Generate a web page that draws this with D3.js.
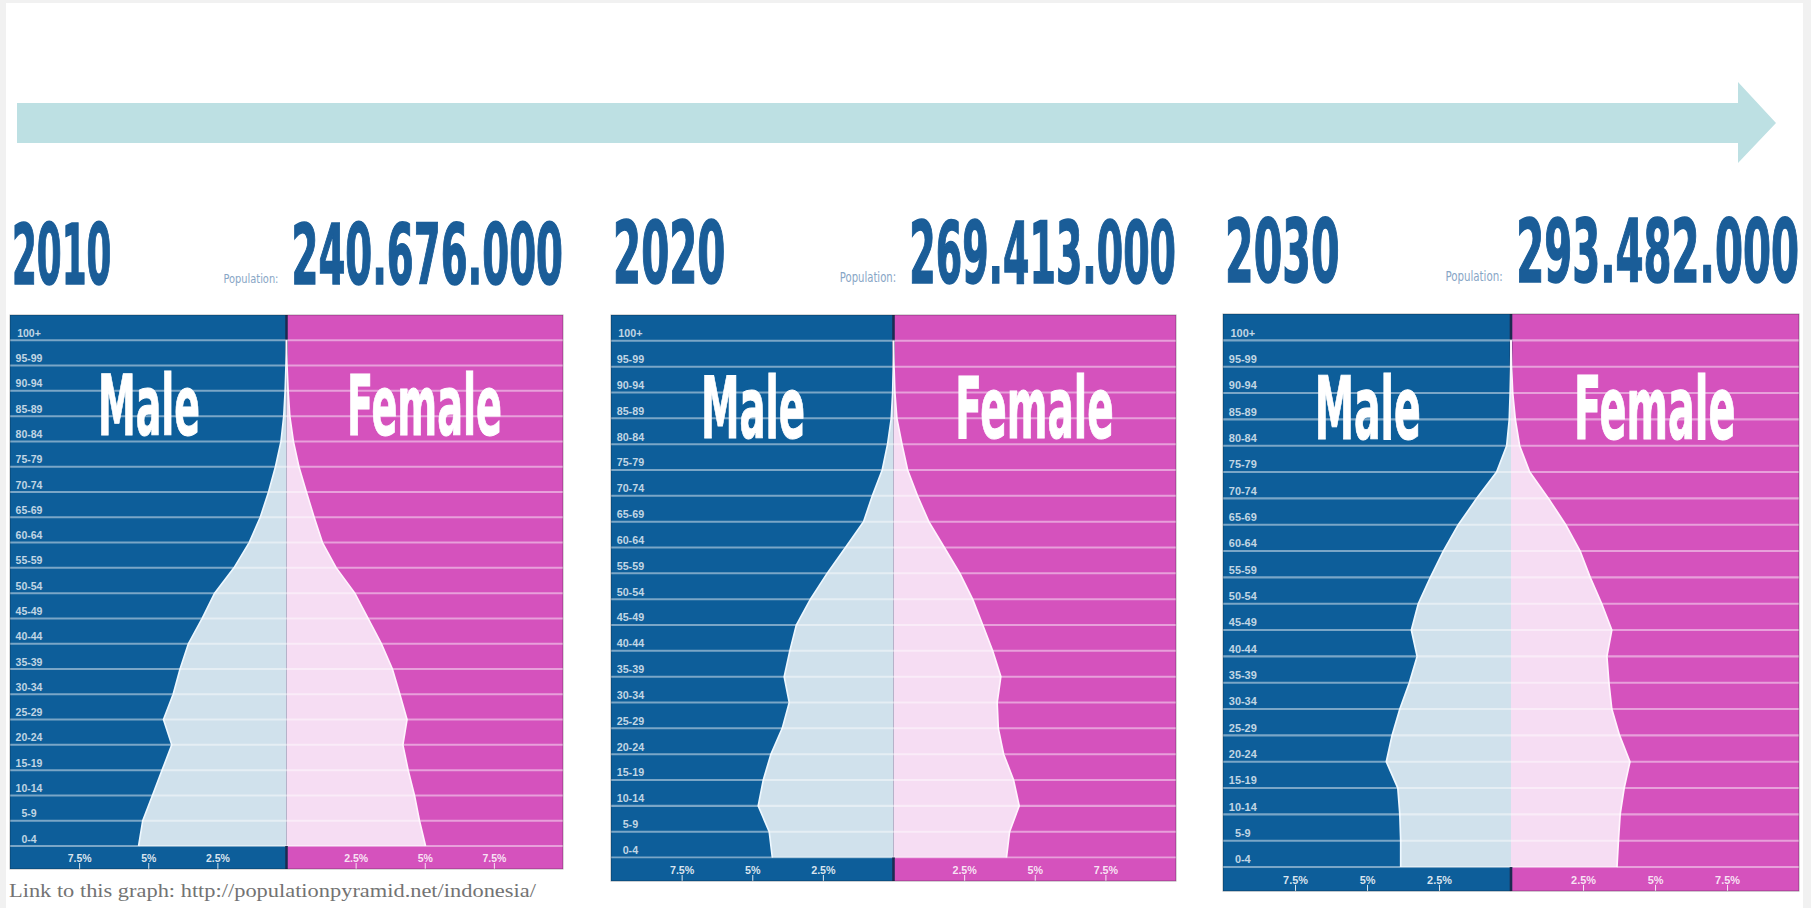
<!DOCTYPE html>
<html>
<head>
<meta charset="utf-8">
<script src="https://cdn.jsdelivr.net/npm/d3@7"></script>
<style>
  html, body { margin: 0; padding: 0; background: #f1f1f1; }
  svg { display: block; }
</style>
</head>
<body>
<svg id="chart" width="1811" height="908"></svg>
<script>
// ---- data (shares of total population, %, top row first) ----
var ages = ["100+", "95-99", "90-94", "85-89", "80-84", "75-79", "70-74", "65-69", "60-64", "55-59",
  "50-54", "45-49", "40-44", "35-39", "30-34", "25-29", "20-24", "15-19", "10-14", "5-9", "0-4"];

var years = ["2010", "2020", "2030"];
var totals = ["240.676.000", "269.413.000", "293.482.000"];

var male2010 = [0, 0.02, 0.05, 0.1, 0.2, 0.4, 0.65, 0.95, 1.35, 1.9, 2.6, 3.05, 3.55, 3.85, 4.1, 4.45, 4.15, 4.5, 4.85, 5.2, 5.35];
var female2010 = [0, 0.02, 0.06, 0.12, 0.25, 0.45, 0.72, 1.0, 1.3, 1.8, 2.47, 2.95, 3.43, 3.83, 4.1, 4.36, 4.21, 4.4, 4.63, 4.81, 5.03];

var male2020 = [0, 0.01, 0.03, 0.08, 0.21, 0.4, 0.75, 1.06, 1.7, 2.35, 2.94, 3.44, 3.67, 3.87, 3.69, 3.94, 4.34, 4.61, 4.79, 4.4, 4.29];
var female2020 = [0, 0.02, 0.05, 0.12, 0.3, 0.5, 0.85, 1.25, 1.8, 2.35, 2.8, 3.16, 3.51, 3.8, 3.67, 3.71, 3.9, 4.25, 4.45, 4.11, 4.0];

var male2030 = [0, 0.01, 0.03, 0.06, 0.15, 0.5, 1.19, 1.83, 2.35, 2.8, 3.22, 3.46, 3.26, 3.53, 3.86, 4.13, 4.33, 3.93, 3.86, 3.83, 3.83];
var female2030 = [0, 0.02, 0.06, 0.15, 0.3, 0.65, 1.3, 1.9, 2.4, 2.75, 3.15, 3.5, 3.33, 3.4, 3.5, 3.77, 4.13, 3.93, 3.79, 3.73, 3.68];

var maleShares = [male2010, male2020, male2030];
var femaleShares = [female2010, female2020, female2030];

var tickValues = [2.5, 5, 7.5];
var linkText = "Link to this graph: http://populationpyramid.net/indonesia/";

// ---- layout ----
var W = 553, H = 554, ROWS_H = 531, CX = 276.5;   // base panel size, panels are scaled copies
var panels = [
  { x: 10, y: 315, size: 553 },
  { x: 611, y: 315, size: 565 },
  { x: 1223, y: 314, size: 576 }
];

var color = {
  maleDark: '#0d5e9a',
  femaleDark: '#d552bd',
  maleLight: '#d0e1ec',
  femaleLight: '#f6ddf3',
  title: '#1a5d98',
  popLabel: '#88a6c6',
  divider: '#1c2b50',
  arrow: '#bde0e3',
  link: '#737373'
};

var condensed = '"Liberation Sans Narrow", "DejaVu Sans Condensed", "Arial Narrow", sans-serif';
var plain = '"Liberation Sans", Arial, sans-serif';

var svg = d3.select('#chart');

svg.append('rect').attr('x', 6).attr('y', 3).attr('width', 1797).attr('height', 905).attr('fill', '#ffffff');

// timeline arrow
svg.append('path')
  .attr('d', 'M17,103 L1738,103 L1738,82 L1776,123 L1738,163 L1738,143 L17,143 Z')
  .attr('fill', color.arrow);

// rough width of the condensed title face, so numbers with "1" stay narrower
function condensedWidth(str) {
  var w = 0;
  for (var c of str) w += c === '1' ? 17 : (c === '.' ? 12 : 27.5);
  return w;
}

// squeeze a text horizontally to a given width, left edge at x
function fitText(sel, x, y, width) {
  var len = sel.node().getComputedTextLength();
  sel.attr('x', 0).attr('y', 0)
    .attr('transform', 'translate(' + x + ',' + y + ') scale(' + (width / len) + ',1)');
  return sel;
}

function drawPanel(i) {
  var p = panels[i];
  var g = svg.append('g')
    .attr('transform', 'translate(' + p.x + ',' + p.y + ') scale(' + (p.size / W) + ')');

  var y = d3.scaleBand().domain(ages).range([0, ROWS_H]);
  var xM = d3.scaleLinear().domain([0, 10]).range([CX, 0]);
  var xF = d3.scaleLinear().domain([0, 10]).range([CX, W]);

  // header
  var numW = condensedWidth(totals[i]);
  fitText(g.append('text').text(years[i])
    .style('font-family', condensed).style('font-weight', 'bold').style('font-size', '84px')
    .attr('fill', color.title).attr('stroke', color.title).attr('stroke-width', 1.5),
    2, -31, condensedWidth(years[i]));
  fitText(g.append('text').text(totals[i])
    .style('font-family', condensed).style('font-weight', 'bold').style('font-size', '84px')
    .attr('fill', color.title).attr('stroke', color.title).attr('stroke-width', 1.5),
    W - numW, -31, numW);
  fitText(g.append('text').text('Population:')
    .style('font-family', condensed).style('font-size', '13px')
    .attr('fill', color.popLabel),
    W - numW - 68, -32, 55);

  // backgrounds
  g.append('rect').attr('x', 0).attr('y', 0).attr('width', CX).attr('height', H).attr('fill', color.maleDark);
  g.append('rect').attr('x', CX).attr('y', 0).attr('width', W - CX).attr('height', H).attr('fill', color.femaleDark);
  g.append('line').attr('x1', CX).attr('x2', CX).attr('y1', 0).attr('y2', H)
    .attr('stroke', color.divider).attr('stroke-width', 2.5);

  // vertices sit on the lower edge of each age row
  function points(vals) {
    return [{ y: 0, v: 0 }].concat(ages.map(function (a, k) {
      return { y: y(a) + y.bandwidth(), v: vals[k] };
    }));
  }
  var mp = points(maleShares[i]);
  var fp = points(femaleShares[i]);

  g.append('path').datum(mp)
    .attr('d', d3.area().x0(CX).x1(function (d) { return xM(d.v); }).y(function (d) { return d.y; }))
    .attr('fill', color.maleLight);
  g.append('path').datum(fp)
    .attr('d', d3.area().x0(CX).x1(function (d) { return xF(d.v); }).y(function (d) { return d.y; }))
    .attr('fill', color.femaleLight);

  g.append('path').datum(mp.slice(1))
    .attr('d', d3.line().x(function (d) { return xM(d.v); }).y(function (d) { return d.y; }))
    .attr('fill', 'none').attr('stroke', '#eef8ff').attr('stroke-width', 1.6);
  g.append('path').datum(fp.slice(1))
    .attr('d', d3.line().x(function (d) { return xF(d.v); }).y(function (d) { return d.y; }))
    .attr('fill', 'none').attr('stroke', '#fff4fd').attr('stroke-width', 1.6);

  // row lines
  g.selectAll('line.row').data(ages).enter().append('line')
    .attr('class', 'row')
    .attr('x1', 0).attr('x2', W)
    .attr('y1', function (d) { return y(d) + y.bandwidth(); })
    .attr('y2', function (d) { return y(d) + y.bandwidth(); })
    .attr('stroke', 'rgba(255,255,255,0.45)').attr('stroke-width', 2);

  // age labels
  g.selectAll('text.age').data(ages).enter().append('text')
    .attr('class', 'age')
    .attr('x', 19)
    .attr('y', function (d) { return y(d) + y.bandwidth() - 3.5; })
    .attr('text-anchor', 'middle')
    .style('font-family', plain).style('font-size', '10.5px').style('font-weight', 'bold')
    .attr('fill', 'rgba(255,255,255,0.75)')
    .text(function (d) { return d; });

  // Male / Female
  fitText(g.append('text').text('Male')
    .style('font-family', condensed).style('font-weight', 'bold').style('font-size', '83px')
    .attr('fill', '#ffffff').attr('stroke', '#ffffff').attr('stroke-width', 1),
    88, 120, 102);
  fitText(g.append('text').text('Female')
    .style('font-family', condensed).style('font-weight', 'bold').style('font-size', '83px')
    .attr('fill', '#ffffff').attr('stroke', '#ffffff').attr('stroke-width', 1),
    337, 120, 155);

  // percent band
  g.append('rect').attr('x', 0).attr('y', ROWS_H + 1).attr('width', CX).attr('height', H - ROWS_H - 1).attr('fill', color.maleDark);
  g.append('rect').attr('x', CX).attr('y', ROWS_H + 1).attr('width', W - CX).attr('height', H - ROWS_H - 1).attr('fill', color.femaleDark);
  g.append('line').attr('x1', CX).attr('x2', CX).attr('y1', ROWS_H).attr('y2', H)
    .attr('stroke', color.divider).attr('stroke-width', 2.5);

  [xM, xF].forEach(function (sc) {
    var ax = g.append('g')
      .attr('transform', 'translate(0,' + H + ')')
      .call(d3.axisTop(sc).tickValues(tickValues).tickSize(6).tickPadding(1)
        .tickFormat(function (d) { return d + '%'; }));
    ax.select('.domain').remove();
    ax.selectAll('line').attr('stroke', 'rgba(255,255,255,0.85)');
    ax.selectAll('text')
      .attr('fill', 'rgba(255,255,255,0.85)')
      .style('font-family', plain).style('font-size', '10.5px').style('font-weight', 'bold');
  });

  // thin outline
  g.append('rect').attr('x', 0).attr('y', 0).attr('width', W).attr('height', H)
    .attr('fill', 'none').attr('stroke', 'rgba(0,0,0,0.3)').attr('stroke-width', 1);
}

years.forEach(function (yr, i) { drawPanel(i); });

fitText(svg.append('text').text(linkText)
  .style('font-family', '"Liberation Serif", "DejaVu Serif", serif').style('font-size', '19px')
  .attr('fill', color.link),
  9, 897, 527);
</script>
</body>
</html>
